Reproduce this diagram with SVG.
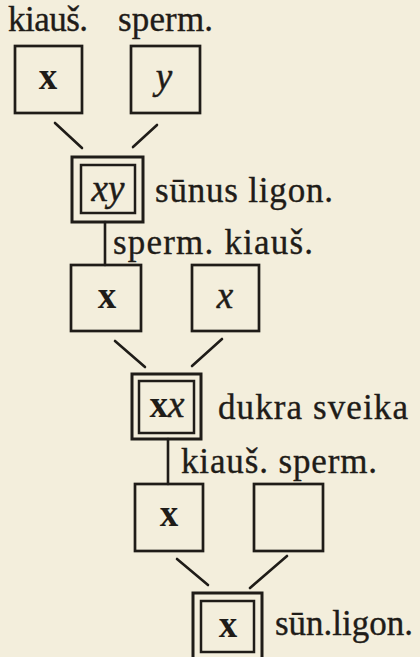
<svg xmlns="http://www.w3.org/2000/svg" width="420" height="657" viewBox="0 0 420 657">
  <style>
    .box { fill: none; stroke: #1f1c18; stroke-width: 2.7; }
    .outer { fill: none; stroke: #1f1c18; stroke-width: 3; }
    .inner { fill: none; stroke: #1f1c18; stroke-width: 2.5; }
    .link { stroke: #1f1c18; stroke-width: 2.6; stroke-linecap: round; fill: none; }
    .lbl { font-family: "Liberation Serif", "DejaVu Serif", serif; font-size: 35px; fill: #1f1c18; stroke: #1f1c18; stroke-width: 0.35; }
    .sym { font-family: "Liberation Serif", "DejaVu Serif", serif; font-size: 37px; fill: #1f1c18; text-anchor: middle; }
    .up { font-weight: bold; }
    .it { font-style: italic; stroke: #1f1c18; stroke-width: 0.5; }
  </style>
  <rect x="0" y="0" width="420" height="657" fill="#f3eedc"/>

  <!-- parent labels, first generation -->
  <text class="lbl" x="8" y="31" textLength="80">kiauš.</text>
  <text class="lbl" x="118" y="31" textLength="95">sperm.</text>

  <!-- connectors -->
  <g id="connectors">
    <line class="link" x1="55" y1="123" x2="82" y2="148"/>
    <line class="link" x1="157" y1="125" x2="133" y2="147"/>
    <line class="link" x1="105" y1="222" x2="105" y2="265"/>
    <line class="link" x1="115" y1="341" x2="145" y2="367"/>
    <line class="link" x1="222" y1="339" x2="192" y2="366"/>
    <line class="link" x1="168" y1="439" x2="168" y2="484"/>
    <line class="link" x1="177" y1="559" x2="208" y2="585"/>
    <line class="link" x1="287" y1="556" x2="250" y2="588"/>
  </g>

  <!-- first generation gametes -->
  <g id="egg1">
    <rect class="box" x="15" y="46" width="67" height="67"/>
    <text class="sym up" x="48" y="89">x</text>
  </g>
  <g id="sperm1">
    <rect class="box" x="131" y="46" width="69" height="67"/>
    <text class="sym it" x="164" y="89">y</text>
  </g>

  <!-- son, affected -->
  <g id="son">
    <rect class="outer" x="72" y="157" width="71" height="65"/>
    <rect class="inner" x="81" y="165" width="54" height="48"/>
    <text class="sym it" x="108" y="201">xy</text>
    <text class="lbl" x="155" y="202" textLength="178">sūnus ligon.</text>
  </g>

  <text class="lbl" x="113" y="254" textLength="200">sperm. kiauš.</text>

  <!-- second generation gametes -->
  <g id="sperm2">
    <rect class="box" x="71" y="265" width="70" height="66"/>
    <text class="sym up" x="107" y="308">x</text>
  </g>
  <g id="egg2">
    <rect class="box" x="192" y="265" width="67" height="66"/>
    <text class="sym it" x="225" y="308">x</text>
  </g>

  <!-- daughter, healthy -->
  <g id="daughter">
    <rect class="outer" x="132" y="374" width="69" height="65"/>
    <rect class="inner" x="139" y="381" width="55" height="52"/>
    <text class="sym" x="167" y="417"><tspan class="up">x</tspan><tspan class="it">x</tspan></text>
    <text class="lbl" x="218" y="419" textLength="190">dukra sveika</text>
  </g>

  <text class="lbl" x="181" y="473" textLength="196">kiauš. sperm.</text>

  <!-- third generation gametes -->
  <g id="egg3">
    <rect class="box" x="135" y="484" width="68" height="67"/>
    <text class="sym up" x="169" y="526">x</text>
  </g>
  <g id="sperm3">
    <rect class="box" x="254" y="484" width="69" height="67"/>
  </g>

  <!-- grandson, affected -->
  <g id="grandson">
    <rect class="outer" x="193" y="593" width="69" height="70"/>
    <rect class="inner" x="201" y="601" width="53" height="51"/>
    <text class="sym up" x="228" y="637">x</text>
    <text class="lbl" x="275" y="635" textLength="138">sūn.ligon.</text>
  </g>
</svg>
